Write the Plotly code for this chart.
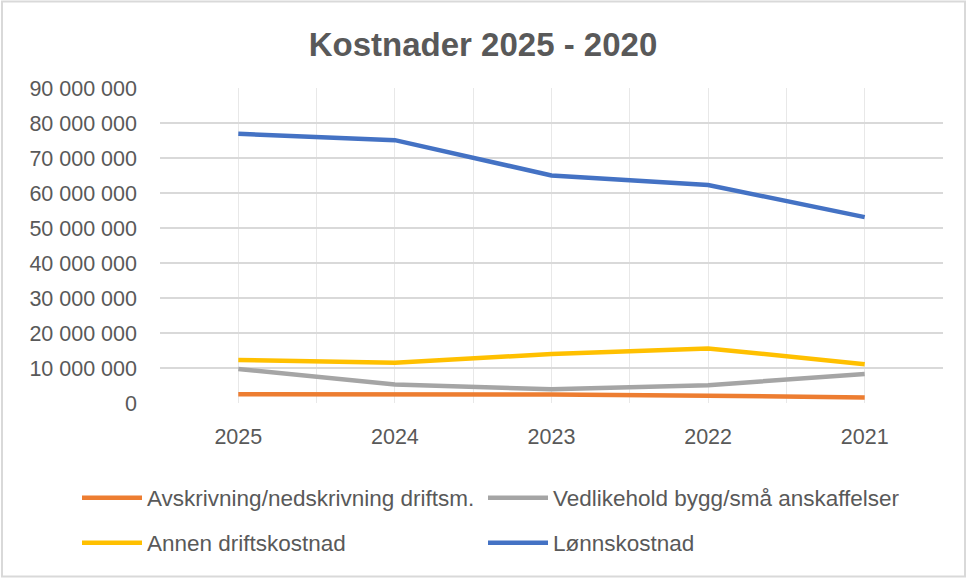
import plotly.graph_objects as go

years = ["2025", "2024", "2023", "2022", "2021"]
avskrivning = [2.5e6, 2.5e6, 2.4e6, 2.1e6, 1.6e6]
vedlikehold = [9.7e6, 5.3e6, 3.9e6, 5.1e6, 8.3e6]
annen = [12.3e6, 11.5e6, 14.0e6, 15.6e6, 11.1e6]
lonn = [76.9e6, 75.1e6, 65.0e6, 62.3e6, 53.1e6]

names = ["Avskrivning/nedskrivning driftsm.", "Vedlikehold bygg/små anskaffelser",
         "Annen driftskostnad", "Lønnskostnad"]
colors = ["#ED7D31", "#A5A5A5", "#FFC000", "#4472C4"]
series = [avskrivning, vedlikehold, annen, lonn]
legends = ["legend", "legend2", "legend3", "legend4"]
y_ticks = [0, 10e6, 20e6, 30e6, 40e6, 50e6, 60e6, 70e6, 80e6, 90e6]

xpos = list(range(len(years)))

fig = go.Figure()
for name, col, vals, lg in zip(names, colors, series, legends):
    fig.add_trace(go.Scatter(x=xpos, y=vals, name=name, mode="lines",
                             line=dict(color=col, width=4.5, shape="linear"),
                             legend=lg))

W, H = 966, 578
L, R, T, B = 160, 23, 88, 175
pw, ph = W - L - R, H - T - B

def px(x):
    return (x - L) / pw

def py(y):
    return (H - B - y) / ph

txt = "#595959"
leg_common = dict(orientation="h", xanchor="left", yanchor="middle",
                  itemwidth=60, font=dict(size=22.5, color=txt),
                  bgcolor="rgba(0,0,0,0)")
col_x = [77, 483]
row_y = [498, 543]
fig.update_layout(
    width=W, height=H,
    margin=dict(l=L, r=R, t=T, b=B, autoexpand=False),
    paper_bgcolor="white", plot_bgcolor="white",
    separators=", ",
    font=dict(family="Liberation Sans, Arial, sans-serif", color=txt, size=21.5),
    title=dict(text="<b>Kostnader 2025 - 2020</b>", x=0.5, xanchor="center",
               y=1 - 44 / H, yanchor="middle",
               font=dict(size=33, color=txt)),
    showlegend=True,
    legend=dict(x=px(col_x[0]), y=py(row_y[0]), **leg_common),
    legend2=dict(x=px(col_x[1]), y=py(row_y[0]), **leg_common),
    legend3=dict(x=px(col_x[0]), y=py(row_y[1]), **leg_common),
    legend4=dict(x=px(col_x[1]), y=py(row_y[1]), **leg_common),
    xaxis=dict(range=[-0.5, len(years) - 0.5], tickvals=xpos, ticktext=years,
               showgrid=True, gridcolor="#E8E8E8", gridwidth=1,
               zeroline=False, showline=False, ticks="",
               ticklabelstandoff=18,
               minor=dict(tickvals=[i - 0.5 for i in range(len(years) + 1)],
                          showgrid=True, gridcolor="#E8E8E8", gridwidth=1, ticks=""),
               fixedrange=True),
    yaxis=dict(range=[0, 90e6], tickvals=y_ticks, tickformat=",d",
               showgrid=True, gridcolor="#D9D9D9", gridwidth=1.5,
               zeroline=False, showline=False, ticks="",
               ticklabelstandoff=22, fixedrange=True),
    shapes=[dict(type="rect", xref="paper", yref="paper",
                 x0=px(2), x1=px(965), y0=py(576.5), y1=py(1.5),
                 line=dict(color="#D9D9D9", width=2), layer="below")],
)

fig.write_html("out.html", config={"displayModeBar": False},
               post_script="document.body.style.margin='0';document.body.style.overflow='hidden';")
